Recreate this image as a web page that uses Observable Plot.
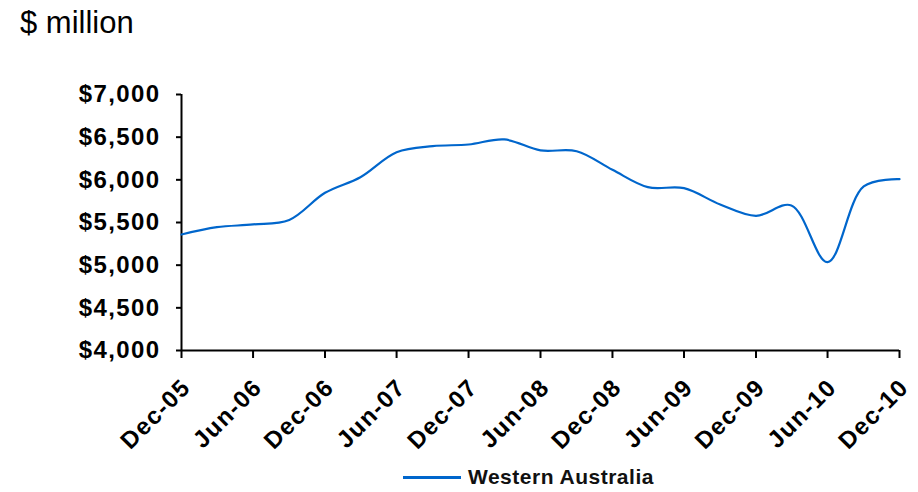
<!DOCTYPE html>
<html>
<head>
<meta charset="utf-8">
<script src="https://cdn.jsdelivr.net/npm/d3@7"></script>
<script src="https://cdn.jsdelivr.net/npm/@observablehq/plot@0.6"></script>
<style>
  body { margin: 0; background: #fff; font-family: "Liberation Sans", Arial, sans-serif; }
  #wrap { width: 918px; height: 492px; position: relative; overflow: hidden; }
  #title { height: 45px; font-size: 31px; padding-left: 20px; line-height: 45px; color: #000; }
  #legend { position: absolute; left: 403px; top: 465px; height: 24px; line-height: 24px; display: flex; align-items: center; font-size: 21px; font-weight: bold; letter-spacing: 0.5px; color: #111; }
  #legend .sw { width: 58px; height: 3px; background: #0066CC; margin-right: 7px; }
  #chart svg g[aria-label="y-axis tick label"] text,
  #chart svg g[aria-label="x-axis tick label"] text { letter-spacing: 1.4px; }
</style>
</head>
<body>
<div id="wrap">
  <div id="title">$ million</div>
  <div id="chart"></div>
  <div id="legend"><div class="sw"></div><span>Western Australia</span></div>
</div>
<script>
const quarters = ["2005-12","2006-03","2006-06","2006-09","2006-12","2007-03","2007-06","2007-09","2007-12","2008-03","2008-06","2008-09","2008-12","2009-03","2009-06","2009-09","2009-12","2010-03","2010-06","2010-09","2010-12"];
const values = [5360,5445,5477,5530,5848,6031,6324,6395,6414,6473,6345,6335,6117,5914,5902,5711,5578,5700,5035,5922,6008];
const seriesName = "Western Australia";
const yTicks = [4000,4500,5000,5500,6000,6500,7000];
const xTickLabels = ["Dec-05","Jun-06","Dec-06","Jun-07","Dec-07","Jun-08","Dec-08","Jun-09","Dec-09","Jun-10","Dec-10"];

const parse = d3.utcParse("%Y-%m");
const data = quarters.map((q, i) => ({date: parse(q), value: values[i], series: seriesName}));
const xTicks = quarters.filter((q, i) => i % 2 === 0).map(parse);
const labelOf = new Map(xTicks.map((d, i) => [+d, xTickLabels[i]]));

const chart = Plot.plot({
  width: 918,
  height: 410,
  marginTop: 49,
  marginBottom: 105,
  marginLeft: 181,
  marginRight: 19,
  style: {fontFamily: "'Liberation Sans', Arial, sans-serif", color: "#000", background: "#fff", overflow: "visible"},
  x: {type: "utc", domain: [parse("2005-12"), parse("2010-12")]},
  y: {domain: [4000, 7000]},
  marks: [
    Plot.axisY({ticks: yTicks, tickSize: 5, tickPadding: 16, label: null,
      tickFormat: d => "$" + d3.format(",")(d),
      fontSize: 24, fontWeight: "bold", strokeWidth: 2, strokeOpacity: 1}),
    Plot.axisX({ticks: xTicks, tickSize: 8, label: null, tickFormat: () => "", strokeWidth: 2, strokeOpacity: 1}),
    Plot.axisX({ticks: xTicks, tickSize: 0, tickPadding: 33, dx: 5, label: null, tickRotate: -45,
      tickFormat: d => labelOf.get(+d), fontSize: 24, fontWeight: "bold"}),
    Plot.ruleX([parse("2005-12")], {stroke: "#000", strokeWidth: 2}),
    Plot.ruleY([4000], {stroke: "#000", strokeWidth: 2}),
    Plot.line(data, {x: "date", y: "value", stroke: "#0066CC", strokeWidth: 2.2, curve: "catmull-rom"})
  ]
});
document.getElementById("chart").appendChild(chart);
</script>
</body>
</html>
